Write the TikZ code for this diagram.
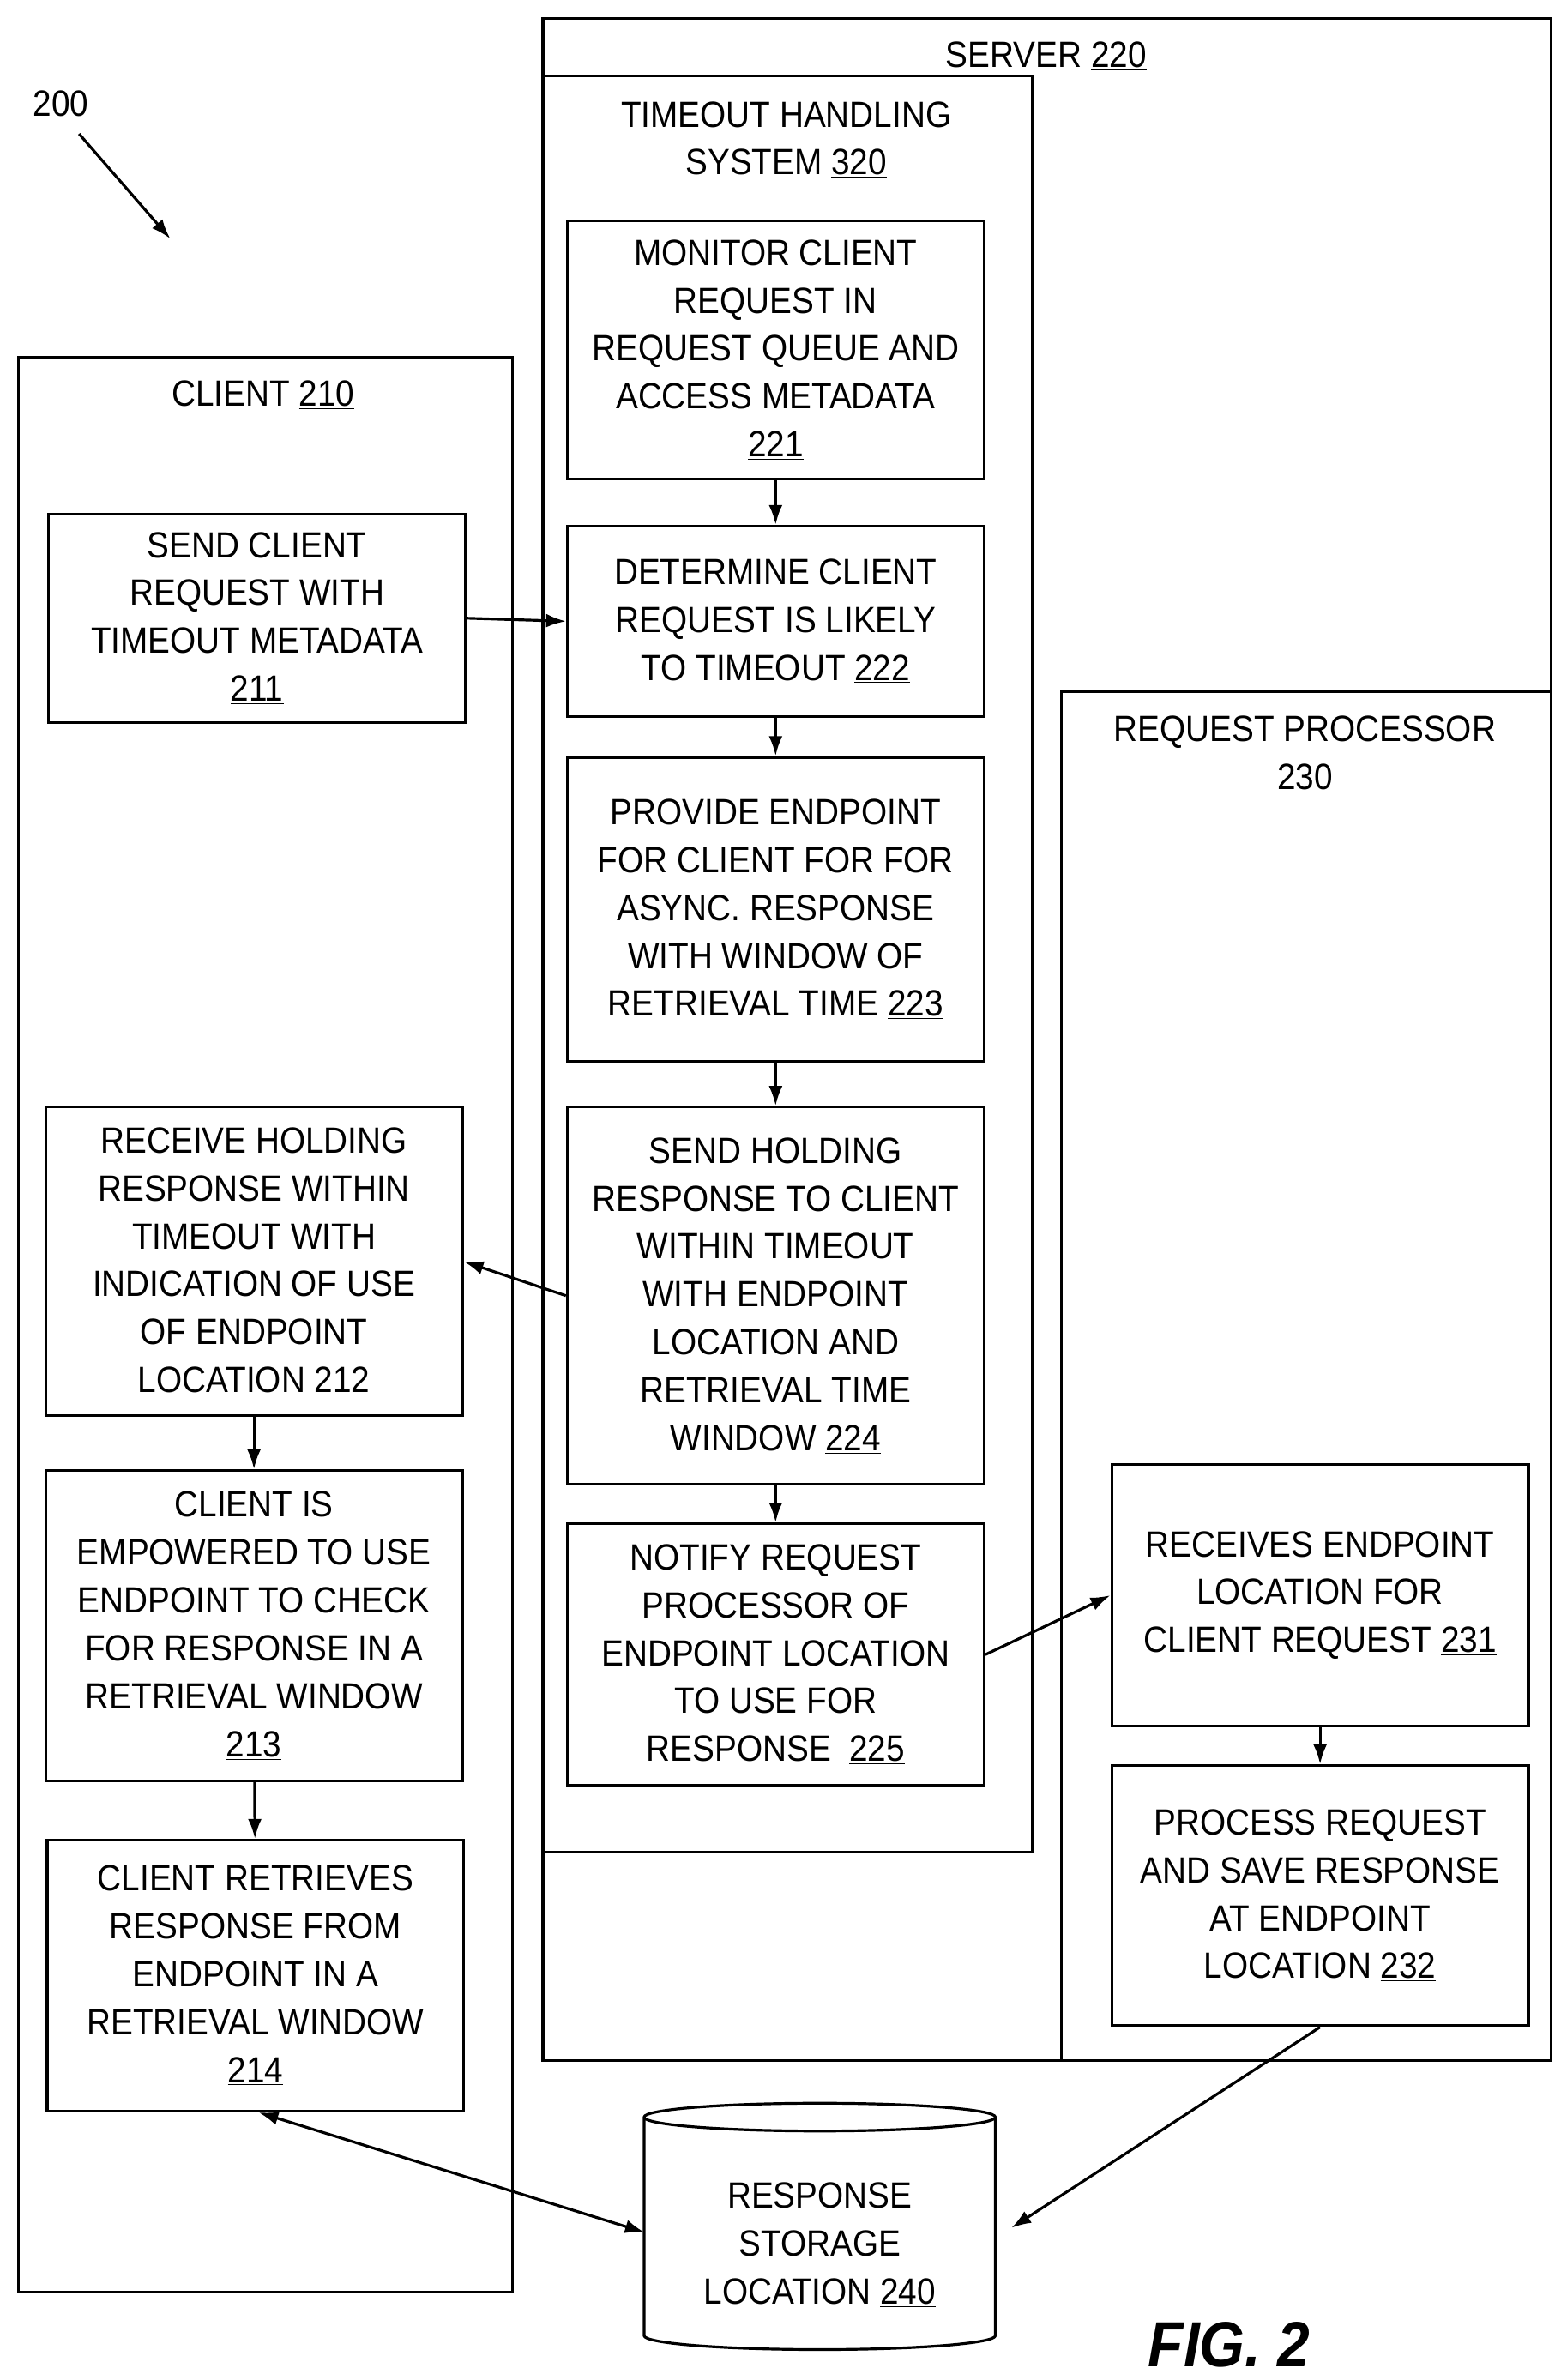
\documentclass[tikz,border=0pt]{standalone}
\usepackage{fontspec}
\setmainfont[FakeStretch=0.91]{Liberation Sans}
\usetikzlibrary{shapes.geometric,arrows.meta}
\tikzset{>={Latex[length=13pt,width=9pt]}}
\tikzset{
  box/.style={draw,line width=1.8pt,align=center,inner sep=0pt},
  frame/.style={draw,line width=1.8pt},
  arr/.style={->,line width=1.8pt},
  lbl/.style={align=center}
}
\newcommand{\ul}[1]{\underline{#1}}
\begin{document}
\begin{tikzpicture}[x=1pt,y=-1pt,font=\fontsize{24}{31.5}\selectfont]
\useasboundingbox (0,0) rectangle (1030,1565);
% frames
\draw[frame] (357,12) rectangle (1020,1355);
\draw[frame] (357,50) rectangle (679,1218);
\draw[frame] (698,455) rectangle (1020,1355);
\draw[frame] (12,235) rectangle (337,1507);
\node[lbl] (srv) at (688,37) {SERVER \ul{220}};
\node[lbl] (ths) at (517,92) {TIMEOUT HANDLING\\SYSTEM \ul{320}};
\node[lbl] (rp) at (858,496) {REQUEST PROCESSOR\\\ul{230}};
\node[lbl] (cl) at (173,260) {CLIENT \ul{210}};
% server steps
\node[box,minimum width=274,minimum height=170] (b221) at (510,230) {MONITOR CLIENT\\REQUEST IN\\REQUEST QUEUE AND\\ACCESS METADATA\\\ul{221}};
\node[box,minimum width=274,minimum height=125] (b222) at (510,408.5) {DETERMINE CLIENT\\REQUEST IS LIKELY\\TO TIMEOUT \ul{222}};
\node[box,minimum width=274,minimum height=200] (b223) at (510,598) {PROVIDE ENDPOINT\\FOR CLIENT FOR FOR\\ASYNC. RESPONSE\\WITH WINDOW OF\\RETRIEVAL TIME \ul{223}};
\node[box,minimum width=274,minimum height=248] (b224) at (510,852) {SEND HOLDING\\RESPONSE TO CLIENT\\WITHIN TIMEOUT\\WITH ENDPOINT\\LOCATION AND\\RETRIEVAL TIME\\WINDOW \ul{224}};
\node[box,minimum width=274,minimum height=172] (b225) at (510,1088) {NOTIFY REQUEST\\PROCESSOR OF\\ENDPOINT LOCATION\\TO USE FOR\\RESPONSE\ \ \ul{225}};
% request processor steps
\node[box,minimum width=274,minimum height=172] (b231) at (868,1049) {RECEIVES ENDPOINT\\LOCATION FOR\\CLIENT REQUEST \ul{231}};
\node[box,minimum width=274,minimum height=171] (b232) at (868,1246.5) {PROCESS REQUEST\\AND SAVE RESPONSE\\AT ENDPOINT\\LOCATION \ul{232}};
% client steps
\node[box,minimum width=274,minimum height=137] (b211) at (169,406.5) {SEND CLIENT\\REQUEST WITH\\TIMEOUT METADATA\\\ul{211}};
\node[box,minimum width=274,minimum height=203] (b212) at (167,829.5) {RECEIVE HOLDING\\RESPONSE WITHIN\\TIMEOUT WITH\\INDICATION OF USE\\OF ENDPOINT\\LOCATION \ul{212}};
\node[box,minimum width=274,minimum height=204] (b213) at (167,1069) {CLIENT IS\\EMPOWERED TO USE\\ENDPOINT TO CHECK\\FOR RESPONSE IN A\\RETRIEVAL WINDOW\\\ul{213}};
\node[box,minimum width=274,minimum height=178] (b214) at (168,1299) {CLIENT RETRIEVES\\RESPONSE FROM\\ENDPOINT IN A\\RETRIEVAL WINDOW\\\ul{214}};
% storage
\node[draw,line width=1.8pt,cylinder,shape border rotate=90,aspect=0.12,minimum width=231,minimum height=162,align=center,inner sep=0pt] (st) at (539,1469) {\\RESPONSE\\STORAGE\\LOCATION \ul{240}};
% arrows
\draw[arr] (b221) -- (b222);
\draw[arr] (b222) -- (b223);
\draw[arr] (b223) -- (b224);
\draw[arr] (b224) -- (b225);
\draw[arr] (b211.east) -- (b222.west);
\draw[arr] (b224.west) -- (b212.east);
\draw[arr] (b212) -- (b213);
\draw[arr] (b213) -- (b214);
\draw[arr] (b225.east) -- (b231.west);
\draw[arr] (b231) -- (b232);
\draw[arr] (b232.south) -- (665,1465);
\draw[arr,<->] (170,1389) -- (424,1468);
% labels
\node (n200) at (40,68) {200};
\draw[arr] (52,88) -- (112,157);
\node[font=\bfseries\itshape\fontsize{42}{46}\selectfont] (fig) at (808,1542) {FIG. 2};
\end{tikzpicture}
\end{document}
